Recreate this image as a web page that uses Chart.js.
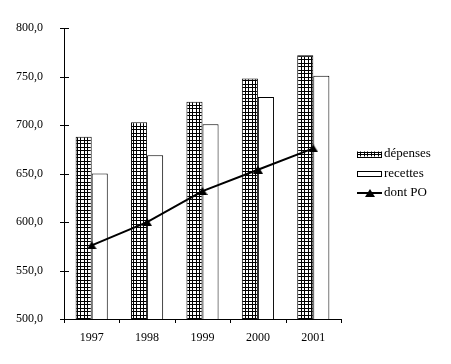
<!DOCTYPE html>
<html><head><meta charset="utf-8">
<script src="https://cdn.jsdelivr.net/npm/chart.js@4.4.0/dist/chart.umd.min.js"></script>
<style>html,body{margin:0;padding:0;background:#fff;}#wrap{width:451px;height:364px;}</style>
</head><body><div id="wrap"><canvas id="c" width="451" height="364"></canvas></div>
<script>
const years = ['1997', '1998', '1999', '2000', '2001'];
const depenses = [688, 703, 724, 748, 772];
const recettes = [650, 669, 701, 729, 751];
const dontPO = [576, 600, 632, 654, 676];
const seriesNames = ['dépenses', 'recettes', 'dont PO'];
const yMin = 500, yMax = 800, yStep = 50;

// checkered pattern for "dépenses"
function makePattern() {
  const p = document.createElement('canvas');
  p.width = 7; p.height = 7;
  const g = p.getContext('2d');
  g.fillStyle = '#fff'; g.fillRect(0, 0, 7, 7);
  g.fillStyle = '#000';
  g.fillRect(0, 0, 7, 1); g.fillRect(0, 3, 7, 1);
  g.fillRect(0, 0, 1, 7); g.fillRect(3, 0, 1, 7);
  return document.createElement('canvas').getContext('2d').createPattern(p, 'repeat');
}
function makeTriangle() {
  const t = document.createElement('canvas');
  t.width = 10; t.height = 8;
  const g = t.getContext('2d');
  g.fillStyle = '#000';
  g.beginPath(); g.moveTo(5, 0); g.lineTo(10, 8); g.lineTo(0, 8); g.closePath(); g.fill();
  return t;
}
const pattern = makePattern();
const tri = makeTriangle();
const FONT = '"Liberation Serif", "Times New Roman", serif';

const tickMarks = {
  id: 'tickMarks',
  afterDraw(chart) {
    const ctx = chart.ctx, x = chart.scales.x, y = chart.scales.y;
    const ca = chart.chartArea;
    ctx.save();
    ctx.strokeStyle = '#000'; ctx.lineWidth = 1;
    ctx.beginPath();
    y.ticks.forEach(t => {
      const py = Math.round(y.getPixelForValue(t.value)) + 0.5;
      ctx.moveTo(ca.left - 4, py); ctx.lineTo(ca.left + 5, py);
    });
    for (let i = 0; i <= years.length; i++) {
      const px = Math.round(x.getPixelForValue(i - 0.5)) + 0.5;
      ctx.moveTo(px, ca.bottom); ctx.lineTo(px, ca.bottom + 4);
    }
    ctx.stroke();
    ctx.restore();
  }
};

const customLegend = {
  id: 'customLegend',
  afterDraw(chart) {
    const ctx = chart.ctx, ca = chart.chartArea;
    const bx = ca.right + 16, bw = 25, tx = bx + bw + 2;
    const rows = [154, 173.5, 193];
    ctx.save();
    ctx.font = '13px ' + FONT;
    ctx.textBaseline = 'middle'; ctx.textAlign = 'left'; ctx.fillStyle = '#000';
    chart.data.datasets.forEach((ds, i) => {
      const cy = rows[i];
      if (ds.type === 'line') {
        ctx.strokeStyle = '#000'; ctx.lineWidth = 2;
        ctx.beginPath(); ctx.moveTo(bx, cy); ctx.lineTo(bx + bw, cy); ctx.stroke();
        ctx.drawImage(tri, Math.round(bx + bw / 2 - 5), Math.round(cy - 4));
      } else {
        ctx.fillStyle = ds.backgroundColor;
        ctx.fillRect(bx, cy - 2.5, bw, 5);
        ctx.strokeStyle = '#000'; ctx.lineWidth = 1;
        ctx.strokeRect(bx + 0.5, Math.round(cy - 2.5) + 0.5, bw - 1, 5);
      }
      ctx.fillStyle = '#000';
      ctx.fillText(ds.label, tx, cy);
    });
    ctx.restore();
  }
};

new Chart(document.getElementById('c'), {
  data: {
    labels: years,
    datasets: [
      { type: 'bar', label: seriesNames[0], data: depenses, backgroundColor: pattern,
        borderColor: '#000', borderWidth: 1, order: 1 },
      { type: 'bar', label: seriesNames[1], data: recettes, backgroundColor: '#fff',
        borderColor: '#000', borderWidth: 1, order: 1 },
      { type: 'line', label: seriesNames[2], data: dontPO, borderColor: '#000', borderWidth: 2,
        pointStyle: tri, pointRadius: 5, pointBackgroundColor: '#000', pointBorderColor: '#000',
        fill: false, tension: 0, order: 0 }
    ]
  },
  options: {
    responsive: false,
    animation: false,
    devicePixelRatio: 1,
    layout: { padding: { top: 26, right: 110, left: 0, bottom: 0 } },
    datasets: { bar: { categoryPercentage: 0.58, barPercentage: 1.0 } },
    plugins: { legend: { display: false }, tooltip: { enabled: false } },
    scales: {
      x: {
        grid: { display: false, drawTicks: false },
        border: { display: true, color: '#000', width: 1 },
        ticks: { color: '#000', font: { family: FONT, size: 12 }, padding: 12, maxRotation: 0 },
        afterFit(s) { s.height = 45; }
      },
      y: {
        min: yMin, max: yMax,
        grid: { display: false, drawTicks: false },
        border: { display: true, color: '#000', width: 1 },
        ticks: { stepSize: yStep, color: '#000', font: { family: FONT, size: 12 }, padding: 21,
          callback: v => v.toFixed(1).replace('.', ',') },
        afterFit(s) { s.width = 64; }
      }
    }
  },
  plugins: [tickMarks, customLegend]
});
</script></body></html>
